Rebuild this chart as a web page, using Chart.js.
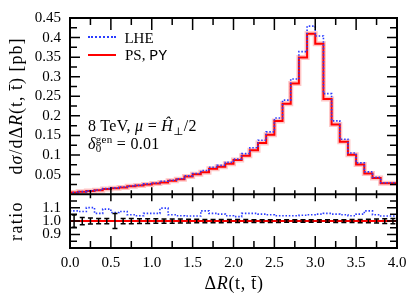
<!DOCTYPE html>
<html><head><meta charset="utf-8">
<script src="https://cdn.jsdelivr.net/npm/chart.js@4"></script>
<style>
html,body{margin:0;padding:0;background:#fff;width:415px;height:299px;overflow:hidden;}
#wrap{position:relative;width:415px;height:299px;}
canvas{position:absolute;left:0;top:0;}
.t{position:absolute;font-family:"Liberation Serif","DejaVu Serif","Times New Roman",serif;color:#000;white-space:nowrap;line-height:1;}
.rot{transform:translate(-50%,-50%) rotate(-90deg);}
.ctr{transform:translate(-50%,-50%);}
.ov{display:inline-block;line-height:0.7;border-top:1.1px solid #000;padding-top:0;}
.ss{display:inline-block;vertical-align:middle;line-height:0.85;font-size:11px;position:relative;top:-1px;}
.mono{font-family:"Liberation Mono","DejaVu Sans Mono",monospace;}
</style></head><body>
<div id="wrap">
<canvas id="c" width="415" height="299"></canvas>
<div class="t" style="left:88px;top:36px;width:28px;height:0;border-top:2px dotted #2a3cff;"></div>
<div class="t ctr" style="left:139px;top:38px;font-size:15px;transform:translate(-50%,-50%);">LHE</div>
<div class="t" style="left:88px;top:54px;width:28px;height:0;border-top:2px solid #ff0000;"></div>
<div class="t" style="left:125px;top:48px;font-size:15px;">PS, <span class="mono">PY</span></div>
<div class="t" style="left:88px;top:118px;font-size:16px;letter-spacing:0.3px;">8 TeV, <i>μ</i> = <i>H&#770;</i><sub style="font-size:11px;">⊥</sub>/2</div>
<div class="t" style="left:88px;top:136px;font-size:16px;letter-spacing:0.3px;"><i>δ</i><span class="ss">gen<br>0</span> = 0.01</div>
<div class="t rot" style="left:16px;top:106px;font-size:18px;letter-spacing:1.0px;">d<i>σ</i>/dΔ<i>R</i>(t, <span class="ov">t</span>) [pb]</div>
<div class="t rot" style="left:16px;top:221px;font-size:18px;letter-spacing:1.4px;">ratio</div>
<div class="t ctr" style="left:234px;top:283px;font-size:18px;letter-spacing:0.7px;">Δ<i>R</i>(t, <span class="ov">t</span>)</div>
</div>
<script>
// bin edges of ΔR(t, tbar)
const binEdges = [0.0,0.1,0.2,0.3,0.4,0.5,0.6,0.7,0.8,0.9,1.0,1.1,1.2,1.3,1.4,1.5,1.6,1.7,1.8,1.9,2.0,
                  2.1,2.2,2.3,2.4,2.5,2.6,2.7,2.8,2.9,3.0,3.1,3.2,3.3,3.4,3.5,3.6,3.7,3.8,3.9,4.0];
// PS, PY  dσ/dΔR [pb]
const psValues = [0.002,0.004,0.006,0.008,0.010,0.013,0.015,0.017,0.020,0.022,
                  0.025,0.027,0.030,0.034,0.038,0.045,0.051,0.056,0.065,0.070,
                  0.078,0.087,0.098,0.112,0.131,0.152,0.187,0.231,0.283,0.349,
                  0.410,0.384,0.243,0.178,0.134,0.101,0.076,0.053,0.041,0.028];
// LHE  dσ/dΔR [pb]
const lheValues = [0.0024,0.0043,0.0064,0.0088,0.0106,0.0142,0.0160,0.0182,0.0209,0.0229,
                   0.0264,0.0285,0.0329,0.0356,0.0395,0.0467,0.0529,0.0603,0.0687,0.0736,
                   0.0811,0.0899,0.1036,0.1184,0.1378,0.1592,0.1945,0.2402,0.2943,0.3640,
                   0.4293,0.4040,0.2569,0.1873,0.1403,0.1050,0.0800,0.0570,0.0429,0.0291];
// ratio panel: LHE / PS
const lheRatio = [1.200,1.076,1.071,1.100,1.057,1.089,1.064,1.071,1.047,1.040,
                  1.057,1.057,1.096,1.047,1.040,1.038,1.038,1.076,1.057,1.052,
                  1.040,1.033,1.057,1.057,1.052,1.047,1.040,1.040,1.040,1.043,
                  1.047,1.052,1.057,1.052,1.047,1.040,1.052,1.076,1.047,1.038];
// ratio panel: PS / PS and its statistical uncertainty
const psRatio = [1,1,1,1,1,1,1,1,1,1, 1,1,1,1,1,1,1,1,1,1, 1,1,1,1,1,1,1,1,1,1, 1,1,1,1,1,1,1,1,1,1];
const psRelErr = [0.045,0.027,0.022,0.020,0.020,0.056,0.020,0.019,0.018,0.018,
                  0.017,0.016,0.016,0.015,0.014,0.013,0.012,0.012,0.012,0.011,
                  0.011,0.011,0.010,0.010,0.010,0.010,0.009,0.009,0.009,0.009,
                  0.009,0.009,0.010,0.010,0.011,0.012,0.013,0.015,0.018,0.020];
// tick labels
const xTickValues = [0.0,0.5,1.0,1.5,2.0,2.5,3.0,3.5,4.0];
const xTickLabels = ['0.0','0.5','1.0','1.5','2.0','2.5','3.0','3.5','4.0'];
const yTickValues = [0.05,0.1,0.15,0.2,0.25,0.3,0.35,0.4,0.45];
const yTickLabels = ['0.05','0.1','0.15','0.2','0.25','0.3','0.35','0.4','0.45'];
const ratioTickValues = [0.9,1.0,1.1];
const ratioTickLabels = ['0.9','1.0','1.1'];

function stepPoints(vals){
  return binEdges.map((x,i)=>({x:x, y:vals[Math.min(i, vals.length-1)]}));
}

const FONT = {family:"'Liberation Serif', 'DejaVu Serif', serif", size:15};

const errBars = {
  id:'errBars',
  afterDatasetsDraw(chart){
    const ctx = chart.ctx, xs = chart.scales.x, ys = chart.scales.yr;
    ctx.save(); ctx.strokeStyle='#000'; ctx.lineWidth=1.5;
    for(let i=0;i<psRatio.length;i++){
      const xc = xs.getPixelForValue((binEdges[i]+binEdges[i+1])/2);
      const yt = ys.getPixelForValue(psRatio[i]+psRelErr[i]);
      const yb = ys.getPixelForValue(psRatio[i]-psRelErr[i]);
      ctx.beginPath();
      ctx.moveTo(xc,yb); ctx.lineTo(xc,yt);
      ctx.moveTo(xc-2.5,yb); ctx.lineTo(xc+2.5,yb);
      ctx.moveTo(xc-2.5,yt); ctx.lineTo(xc+2.5,yt);
      ctx.stroke();
    }
    ctx.restore();
  }
};

const frameTicks = {
  id:'frameTicks',
  afterDraw(chart){
    const ctx = chart.ctx, a = chart.chartArea;
    const xs = chart.scales.x, ym = chart.scales.y, yr = chart.scales.yr;
    const div = ym.bottom;
    ctx.save(); ctx.strokeStyle='#000'; ctx.lineWidth=1.5;
    ctx.beginPath();
    for(let k=0;k<=16;k++){
      const v = k*0.25, px = xs.getPixelForValue(v);
      const major = (k%2===0);
      const L = major?12:7, D = major?7:4;
      ctx.moveTo(px,a.top); ctx.lineTo(px,a.top+L);
      ctx.moveTo(px,a.bottom); ctx.lineTo(px,a.bottom-L);
      ctx.moveTo(px,div-D); ctx.lineTo(px,div+D);
    }
    for(let k=1;k<=18;k++){
      const v = k*0.025, py = ym.getPixelForValue(v);
      const L = (k%2===0)?10:7;
      ctx.moveTo(a.left,py); ctx.lineTo(a.left+L,py);
      ctx.moveTo(a.right,py); ctx.lineTo(a.right-L,py);
    }
    for(let k=17;k<=23;k++){
      const v = k*0.05, py = yr.getPixelForValue(v);
      const L = (k%2===0)?10:7;
      ctx.moveTo(a.left,py); ctx.lineTo(a.left+L,py);
      ctx.moveTo(a.right,py); ctx.lineTo(a.right-L,py);
    }
    ctx.stroke();
    ctx.lineWidth=2;
    ctx.strokeRect(a.left,a.top,a.right-a.left,a.bottom-a.top);
    ctx.beginPath(); ctx.moveTo(a.left,div); ctx.lineTo(a.right,div); ctx.stroke();
    ctx.restore();
  }
};

const common = {type:'linear', position:'left', stack:'panels', grid:{display:false, drawTicks:false}, border:{display:false}};

new Chart(document.getElementById('c'), {
  type:'line',
  data:{datasets:[
    {label:'LHE', data:stepPoints(lheValues), yAxisID:'y', stepped:'after', borderColor:'#2a3cff', borderWidth:1.6, borderDash:[1.5,1.8], pointRadius:0, fill:false, order:0},
    {label:'PS, PY', data:stepPoints(psValues), yAxisID:'y', stepped:'after', borderColor:'#ff0000', borderWidth:2, pointRadius:0, fill:false, order:1},
    {label:'PS band', data:stepPoints(psValues), yAxisID:'y', stepped:'after', borderColor:'rgba(255,90,90,0.35)', borderWidth:5, pointRadius:0, fill:false, order:2},
    {label:'LHE ratio', data:stepPoints(lheRatio), yAxisID:'yr', stepped:'after', borderColor:'#2a3cff', borderWidth:1.6, borderDash:[1.5,1.8], pointRadius:0, fill:false, order:0},
    {label:'PS ratio', data:stepPoints(psRatio), yAxisID:'yr', stepped:'after', borderColor:'#ff0000', borderWidth:2, pointRadius:0, fill:false, order:1}
  ]},
  options:{
    responsive:false, animation:false, events:[],
    layout:{padding:{left:0,right:18,top:13,bottom:0}},
    plugins:{legend:{display:false}, tooltip:{enabled:false}},
    scales:{
      x:{type:'linear', min:0, max:4, grid:{display:false, drawTicks:false}, border:{display:false},
         afterBuildTicks:s=>{ s.ticks = xTickValues.map(v=>({value:v})); },
         afterFit:s=>{ s.height = 51; },
         ticks:{font:FONT, color:'#000', padding:6, maxRotation:0, autoSkip:false,
                callback:(v,i)=>xTickLabels[i]}},
      y:Object.assign({}, common, {min:0, max:0.45, stackWeight:180, weight:1,
         afterBuildTicks:s=>{ s.ticks = yTickValues.map(v=>({value:v})); },
         afterFit:s=>{ s.width = 70; },
         ticks:{font:FONT, color:'#000', padding:9, autoSkip:false, callback:(v,i)=>yTickLabels[i]}}),
      yr:Object.assign({}, common, {min:0.8, max:1.2, stackWeight:55, weight:0,
         afterBuildTicks:s=>{ s.ticks = ratioTickValues.map(v=>({value:v})); },
         afterFit:s=>{ s.width = 70; },
         ticks:{font:FONT, color:'#000', padding:9, autoSkip:false, callback:(v,i)=>ratioTickLabels[i]}})
    }
  },
  plugins:[errBars, frameTicks]
});
</script>
</body></html>
